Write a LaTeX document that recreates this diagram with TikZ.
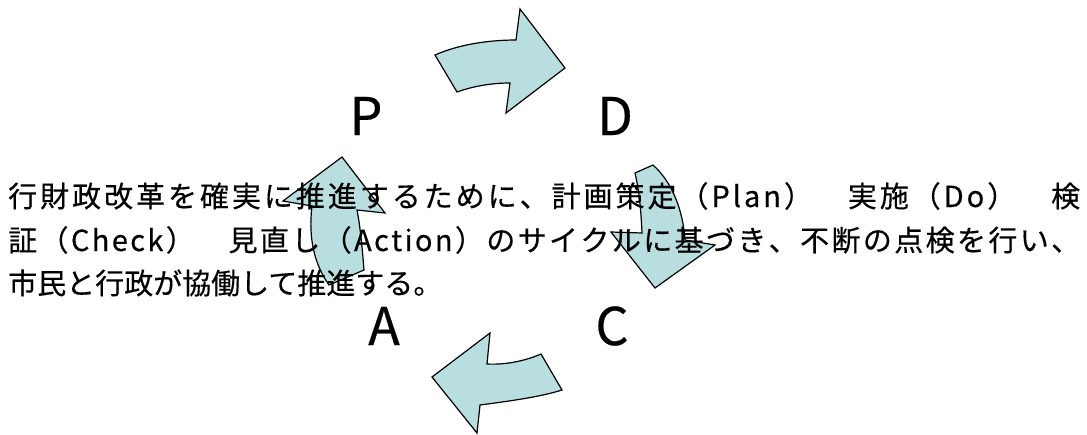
\documentclass[tikz,border=0pt]{standalone}
\usepackage{fontspec}
\newfontfamily\jp[FakeBold=0.4]{Noto Sans CJK JP}
\definecolor{arrowfill}{RGB}{184,222,224}
\makeatletter
\newcommand\spreadline[2]{\makebox[#1][s]{\def\my@sep{}\@tfor\my@x:=#2\do{\my@sep\my@x\def\my@sep{\hfill}}}}
\makeatother
\tikzset{
  blockarrow/.style={fill=arrowfill, draw=black, line width=1.2pt, line join=miter},
  bodytext/.style={anchor=base west, inner sep=0pt, font=\jp\fontsize{29}{29}\selectfont},
  letter/.style={inner sep=0pt, font=\jp\fontsize{52}{52}\selectfont}
}
\begin{document}
\begin{tikzpicture}[x=1pt,y=-1pt]
\path[use as bounding box] (0,0) rectangle (1087,434);
% top arrow P -> D
\draw[blockarrow] (435,55) .. controls (460,44) and (490,40) .. (516,40)
  -- (520,9) -- (565,68) -- (506,113) -- (510,83)
  .. controls (492,83) and (474,86) .. (457,92) -- cycle;
% right arrow D -> C
\draw[blockarrow] (653,165) .. controls (672,182) and (683,210) .. (685,240)
  -- (715,245) -- (655,288) -- (611,232) -- (642,233)
  .. controls (641,210) and (639,190) .. (635,173) -- cycle;
% bottom arrow C -> A
\draw[blockarrow] (541,354) .. controls (525,361) and (505,365) .. (487,364)
  -- (490,333) -- (432,377) -- (477,433) -- (480,405)
  .. controls (510,401) and (540,397) .. (562,390) -- cycle;
% left arrow A -> P
\draw[blockarrow] (364,270) .. controls (362,245) and (360,225) .. (357,210)
  -- (385,213) -- (342,157) -- (283,201) -- (312,206)
  .. controls (308,240) and (315,265) .. (329,285) -- cycle;
% text
\node[bodytext] (l1) at (8,207) {\spreadline{1072pt}{行財政改革を確実に推進するために、計画策定（Plan）　実施（Do）　検}};
\node[bodytext] (l2) at (8,251) {\spreadline{1072pt}{証（Check）　見直し（Action）のサイクルに基づき、不断の点検を行い、}};
\node[bodytext] (l3) at (8,294) {市民と行政が協働して推進する。};
% letters
\node[letter] (P) at (366,116) {P};
\node[letter] (D) at (615,116) {D};
\node[letter] (A) at (384,326) {A};
\node[letter] (C) at (612,326) {C};
\end{tikzpicture}
\end{document}
